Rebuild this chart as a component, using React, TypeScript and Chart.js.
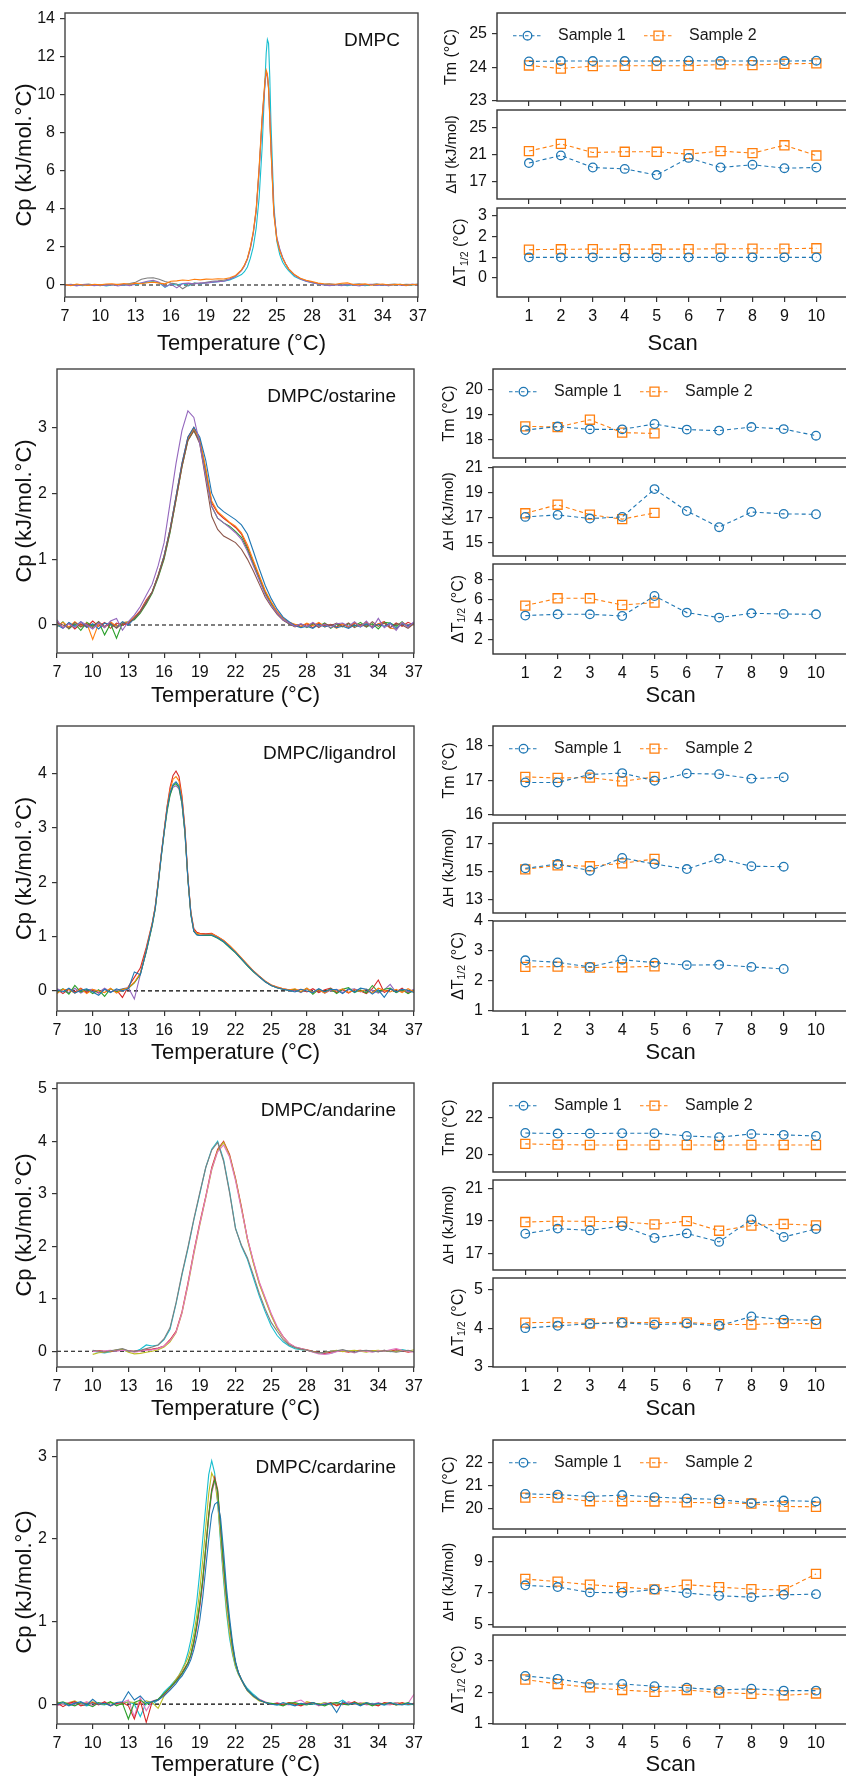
import React, { useEffect, useRef } from "react";
import { Chart, registerables } from "chart.js";

Chart.register(...registerables);

const FONT = "'Liberation Sans', Arial, Helvetica, sans-serif";
Chart.defaults.font.family = FONT;
Chart.defaults.color = "#111";

const C = {
  blue: "#1f77b4", orange: "#ff7f0e", green: "#2ca02c", red: "#d62728", purple: "#9467bd",
  brown: "#8c564b", pink: "#e377c2", gray: "#7f7f7f", olive: "#bcbd22", cyan: "#17becf",
};

// ---------------- axis ticks ----------------
const TEMP_TICKS = [7, 10, 13, 16, 19, 22, 25, 28, 31, 34, 37];
const SCANS = [1, 2, 3, 4, 5, 6, 7, 8, 9, 10];
const ZERO_X = [7, 37];
const ZERO_Y = [0, 0];

// ---------------- DSC thermograms ----------------
const T_DMPC = [7,7.5,8,8.5,9,9.5,10,10.5,11,11.5,12,12.5,13,13.5,14,14.5,15,15.5,16,16.5,17,17.5,18,18.5,19,19.5,20,20.5,21,21.5,22,22.25,22.5,22.75,23,23.25,23.5,23.75,24,24.1,24.2,24.3,24.4,24.5,24.75,25,25.25,25.5,25.75,26,26.5,27,27.5,28,28.5,29,29.5,30,30.5,31,31.5,32,32.5,33,33.5,34,34.5,35,35.5,36,36.5,37];
const DMPC_ORANGE = [0.02,-0.03,0.05,0.0,-0.02,0.04,0.01,0.05,0.07,0.02,0.08,0.04,0.1,0.07,0.12,0.15,0.1,0.06,0.2,0.22,0.26,0.24,0.3,0.27,0.31,0.3,0.33,0.32,0.38,0.5, 0.8,1.05,1.4,2.0,2.8,4.0,6.2,8.8,10.8, 11.3,11.1,10.3,8.8,7.2, 3.7,2.4,1.8,1.4,1.1,0.85, 0.55,0.36,0.25,0.18,0.1,0.07,0.05,0.04,0.09,0.11,0.03,0.02,0.06,-0.01,0.03,0.05,0.0,0.02,0.04,-0.02,0.03,0.01];
const DMPC_PURPLE = [-0.03,0.02,-0.05,0.03,0.0,-0.04,0.02,-0.02,0.03,-0.05,0.01,-0.03,0.05,0.12,0.2,0.25,0.15,-0.1,0.05,-0.15,0.08,0.1,0.05,0.12,0.1,0.15,0.18,0.2,0.3,0.45, 0.75,1.0,1.35,1.9,2.7,3.9,6.0,8.6,10.6, 11.1,11.0,10.4,9.0,7.4, 3.9,2.5,1.9,1.45,1.12,0.85, 0.52,0.32,0.2,0.12,0.05,0.0,-0.03,0.02,-0.04,0.03,0.0,-0.05,0.02,0.04,-0.02,0.01,-0.03,0.03,0.0,-0.04,0.05,-0.02];
const DMPC_GRAY = [0.0,0.04,-0.02,0.02,0.05,0.0,-0.03,0.03,0.0,0.04,0.02,0.08,0.15,0.3,0.37,0.38,0.3,0.18,0.1,0.05,-0.2,0.0,0.1,0.08,0.14,0.2,0.22,0.25,0.33,0.48, 0.78,1.02,1.38,1.95,2.75,3.95,6.1,8.7,10.7, 11.2,11.05,10.35,8.9,7.3, 3.8,2.45,1.85,1.42,1.1,0.85, 0.53,0.34,0.22,0.15,0.08,0.04,0.06,0.02,0.05,0.0,0.04,0.07,0.01,0.03,0.06,0.0,0.03,0.05,0.01,0.04,0.02,0.05];
const DMPC_CYAN = [0.01,-0.02,0.02,-0.04,0.03,-0.01,0.02,-0.05,0.0,0.03,-0.02,0.04,0.02,0.1,0.15,0.18,0.12,-0.12,0.05,0.0,0.08,-0.05,0.1,0.06,0.12,0.14,0.18,0.2,0.27,0.4, 0.55,0.7,0.95,1.4,2.0,3.0,4.6,7.2,10.8, 12.2,12.9,12.7,11.0,8.6, 4.2,2.3,1.6,1.2,0.95,0.75, 0.45,0.3,0.2,0.12,0.06,0.02,-0.02,0.03,0.0,-0.03,0.02,0.01,-0.04,0.03,0.0,0.02,-0.03,0.01,0.04,-0.02,0.0,0.03];

const T_OST = [7,7.5,8,8.5,9,9.5,10,10.5,11,11.5,12,12.5,13,13.5,14,14.5,15,15.5,16,16.5,17,17.5,18,18.5,19,19.5,20,20.5,21,21.5,22,22.5,23,23.5,24,24.5,25,25.5,26,26.5,27,27.5,28,28.5,29,29.5,30,30.5,31,31.5,32,32.5,33,33.5,34,34.5,35,35.5,36,36.5,37];
const OST_PURPLE = [0.08,-0.05,0.02,-0.04,0.05,0.0,-0.06,0.03,-0.04,0.06,0.1,-0.08, 0.05,0.15,0.28,0.45,0.62,0.9,1.25,1.85,2.45,2.95,3.25,3.15, 2.75,2.25,1.8,1.62,1.55,1.48,1.4,1.3,1.12,0.9,0.68,0.46, 0.3,0.18,0.08,0.03,-0.02,0.02,-0.03,0.04,-0.02,0.01,-0.04,0.02, 0.03,-0.02,0.05,-0.03,0.06,-0.05,0.1,-0.04,0.02,-0.08,0.04,-0.03,0.05];
const OST_BROWN = [0.03,0.0,-0.05,0.04,-0.03,0.02,-0.04,0.05,-0.02,0.03,-0.05,0.02, 0.03,0.1,0.2,0.34,0.5,0.74,1.02,1.42,1.9,2.4,2.8,2.95, 2.75,2.2,1.65,1.45,1.35,1.3,1.25,1.15,1.0,0.82,0.62,0.42, 0.28,0.16,0.07,0.02,-0.03,0.01,-0.02,0.03,-0.04,0.02,-0.01,0.03, -0.02,0.03,-0.04,0.01,-0.03,0.05,-0.02,0.03,-0.04,0.02,0.0,-0.05,0.02];
const OST_BLUE = [0.0,-0.05,0.04,-0.02,0.05,-0.04,0.02,-0.06,0.03,0.01,-0.04,0.05, 0.0,0.1,0.2,0.35,0.5,0.75,1.05,1.45,1.95,2.45,2.85,3.0, 2.85,2.5,2.0,1.8,1.72,1.66,1.6,1.52,1.38,1.12,0.85,0.6, 0.4,0.24,0.12,0.05,-0.01,-0.04,-0.02,-0.05,0.01,-0.03,0.0,-0.04, -0.02,-0.05,0.0,-0.03,0.02,-0.04,0.01,-0.02,0.03,-0.05,0.02,-0.01,0.03];
const OST_ORANGE = [-0.02,0.04,-0.03,0.05,-0.02,0.03,-0.22,0.02,-0.04,0.05,-0.02,0.04, 0.04,0.12,0.2,0.36,0.5,0.76,1.05,1.45,1.92,2.42,2.82,2.98, 2.82,2.38,1.88,1.72,1.64,1.56,1.5,1.4,1.22,0.98,0.75,0.52, 0.35,0.2,0.1,0.04,0.01,-0.02,0.03,-0.01,0.04,-0.03,0.0,-0.05, 0.02,-0.03,0.04,-0.02,0.05,-0.04,0.02,0.03,-0.05,-0.06,0.04,-0.02,0.03];
const OST_GREEN = [-0.03,0.05,-0.06,0.02,-0.08,0.04,-0.02,0.05,-0.15,0.02,-0.2,0.03, 0.05,0.08,0.18,0.32,0.48,0.72,1.0,1.4,1.9,2.4,2.8,2.95, 2.78,2.3,1.8,1.62,1.55,1.5,1.42,1.33,1.15,0.92,0.7,0.48, 0.32,0.18,0.08,0.02,-0.02,0.01,-0.04,0.02,-0.02,0.03,-0.05,0.01, -0.03,0.02,-0.02,0.04,-0.03,0.02,-0.06,0.04,0.03,-0.02,0.05,-0.03,0.02];
const OST_RED = [0.05,-0.04,0.03,-0.06,0.02,-0.03,0.06,-0.02,0.04,-0.05,0.03,0.0, 0.02,0.12,0.22,0.38,0.5,0.75,1.05,1.45,1.95,2.45,2.85,3.0, 2.8,2.35,1.85,1.7,1.62,1.55,1.48,1.38,1.18,0.95,0.72,0.5, 0.34,0.2,0.1,0.04,0.0,-0.03,0.02,-0.04,0.03,-0.02,0.01,-0.03, 0.02,-0.04,0.03,-0.02,0.04,-0.03,0.02,0.05,-0.04,0.03,-0.02,0.04,0.0];

const T_LIG = [7,7.5,8,8.5,9,9.5,10,10.5,11,11.5,12,12.5,13,13.5,14,14.5,15, 15.25,15.5,15.75,16,16.25,16.5,16.75,17,17.25,17.5,17.75,18,18.25,18.5,18.75,19, 19.5,20,20.5,21,21.5,22,22.5,23,23.5,24,24.5,25,25.5,26,26.5,27,27.5,28,28.5,29,29.5,30,30.5,31,31.5,32,32.5,33,33.5,34,34.5,35,35.5,36,36.5,37];
const LIG_BLUE = [0.02,-0.02,0.05,-0.04,0.01,0.04,-0.02,-0.08,0.03,-0.03,0.04,0.0,0.04,0.35,0.3,0.74,1.22, 1.52,1.97,2.47,2.92,3.35,3.65,3.8,3.85,3.78,3.5,2.95,2.07,1.42,1.1,1.03,1.02, 1.03,1.03,0.98,0.91,0.81,0.71,0.59,0.47,0.36,0.26,0.17,0.1,0.06,0.03,0.01,-0.02,0.03,0.0,-0.03,0.04,-0.02,0.03,0.02,-0.05,0.04,-0.02,0.05,0.03,-0.06,0.02,-0.12,0.04,-0.02,0.03,0.01,-0.03];
const LIG_ORANGE = [-0.05,0.03,0.02,-0.04,0.04,-0.05,0.03,0.0,-0.03,0.05,-0.04,0.02,0.06,0.16,0.33,0.76,1.24, 1.54,1.99,2.49,2.94,3.38,3.7,3.9,3.95,3.87,3.55,2.98,2.08,1.44,1.12,1.06,1.05, 1.04,1.05,1.0,0.93,0.84,0.73,0.61,0.49,0.37,0.27,0.18,0.11,0.07,0.04,0.02,0.04,-0.01,0.05,-0.03,0.02,-0.04,0.03,0.0,0.04,-0.03,0.02,-0.01,0.03,-0.04,0.05,0.01,-0.02,0.03,-0.03,0.04,-0.02];
const LIG_GREEN = [-0.03,0.04,-0.06,0.1,-0.02,0.03,-0.05,0.02,-0.1,0.04,-0.02,0.03,0.05,0.15,0.3,0.72,1.2, 1.5,1.95,2.45,2.9,3.3,3.6,3.78,3.82,3.75,3.45,2.9,2.05,1.4,1.1,1.04,1.02, 1.02,1.02,0.97,0.9,0.8,0.7,0.58,0.46,0.35,0.26,0.17,0.1,0.06,0.03,0.01,0.03,-0.02,0.05,-0.06,0.03,-0.02,0.04,-0.05,0.03,0.06,-0.03,0.02,-0.04,0.1,-0.02,0.03,0.05,-0.03,0.02,-0.05,0.01];
const LIG_PURPLE = [0.04,0.0,-0.03,0.05,-0.04,0.02,0.03,-0.03,0.05,-0.02,0.01,0.04,0.06,-0.15,0.3,0.73,1.22, 1.52,1.98,2.48,2.93,3.35,3.62,3.75,3.78,3.72,3.45,2.92,2.06,1.42,1.1,1.04,1.03, 1.03,1.04,0.99,0.92,0.82,0.71,0.59,0.47,0.36,0.26,0.17,0.1,0.06,0.03,0.01,0.02,-0.03,0.04,-0.02,0.03,-0.04,0.01,0.03,-0.03,0.02,0.04,-0.02,0.03,0.01,-0.04,0.02,0.12,-0.03,0.02,-0.02,0.03];
const LIG_RED = [0.03,-0.05,0.04,-0.02,0.05,-0.03,0.02,-0.04,0.03,-0.02,0.02,-0.12,0.08,0.25,0.42,0.8,1.25, 1.55,2.0,2.5,2.95,3.4,3.75,3.97,4.05,3.95,3.6,3.0,2.1,1.45,1.15,1.08,1.06, 1.05,1.06,1.0,0.93,0.83,0.72,0.6,0.48,0.37,0.27,0.18,0.11,0.07,0.04,0.02,0.0,0.03,-0.02,0.04,-0.03,0.02,0.05,-0.03,0.02,-0.04,0.03,0.0,-0.05,0.04,0.2,-0.03,0.03,-0.02,0.05,-0.04,0.02];

const T_AND = [10,10.5,11,11.5,12,12.5,13,13.5,14,14.5,15,15.5,16,16.5,17,17.5,18,18.5,19,19.5,20,20.5,21,21.5,22,22.5,23,23.5,24,24.5,25,25.5,26,26.5,27,27.5,28,28.5,29,29.5,30,30.5,31,31.5,32,32.5,33,33.5,34,34.5,35,35.5,36,36.5,37];
const AND_GRAY = [0.02,0.0,-0.02,0.01,0.03,0.05,0.01,0.0,0.02,0.05, 0.08,0.12,0.24,0.45,0.92,1.48,1.98,2.52,3.02,3.5, 3.83,3.98,3.62,3.02,2.33,2.02,1.78,1.45,1.1,0.8, 0.55,0.38,0.22,0.12,0.07,0.04,0.02,-0.01,-0.03,-0.02, 0.0,0.01,0.03,0.0,-0.02,0.01,0.02,0.0,-0.01,0.01,0.0,-0.02,0.0,0.02,-0.01];
const AND_PINK = [0.0,-0.01,0.01,0.02,0.0,0.02,0.01,-0.02,0.0,0.02, 0.03,0.05,0.1,0.2,0.36,0.73,1.27,1.88,2.42,2.93, 3.47,3.8,3.93,3.7,3.25,2.7,2.15,1.72,1.32,1.02, 0.72,0.47,0.28,0.15,0.08,0.05,0.02,-0.02,-0.05,-0.06, -0.04,-0.01,0.02,0.0,-0.03,0.01,0.0,-0.02,0.01,0.0,0.03,0.05,0.02,0.0,-0.02];
const AND_OLIVE = [-0.06,-0.03,-0.02,0.0,0.03,0.04,-0.02,-0.05,-0.04,-0.02, 0.0,0.03,0.08,0.18,0.35,0.72,1.25,1.85,2.4,2.92, 3.45,3.82,3.98,3.72,3.28,2.72,2.12,1.68,1.28,0.98, 0.68,0.44,0.27,0.14,0.07,0.04,0.02,-0.01,-0.03,-0.02, 0.0,0.02,-0.01,0.01,0.02,0.0,-0.02,0.01,0.02,0.0,0.01,-0.01,0.02,0.0,0.03];
const AND_RED = [0.0,0.01,0.0,-0.01,0.02,0.03,0.01,0.0,0.01,0.03, 0.04,0.06,0.1,0.22,0.38,0.75,1.3,1.9,2.45,2.95, 3.5,3.85,4.0,3.75,3.3,2.75,2.15,1.7,1.3,1.0, 0.7,0.45,0.28,0.15,0.08,0.05,0.03,0.0,-0.02,-0.04, -0.02,0.01,0.0,-0.02,0.01,0.02,0.0,0.01,-0.01,0.02,0.0,0.03,0.01,-0.02,0.0];
const AND_CYAN = [0.0,-0.02,-0.03,-0.01,0.01,0.02,0.0,-0.01,0.04,0.12, 0.1,0.12,0.22,0.42,0.9,1.45,1.95,2.5,3.0,3.5, 3.85,4.0,3.65,3.05,2.35,2.0,1.75,1.4,1.05,0.75, 0.48,0.3,0.18,0.1,0.05,0.03,0.02,0.0,-0.03,-0.05, -0.04,0.0,0.02,0.01,-0.02,0.0,0.01,-0.01,0.0,0.02,-0.01,0.0,0.03,0.01,-0.01];

const T_CAR = [7,7.5,8,8.5,9,9.5,10,10.5,11,11.5,12,12.5,13,13.5,14,14.5,15,15.5,16,16.5,17, 17.25,17.5,17.75,18,18.25,18.5,18.75,19,19.25,19.5,19.75,20,20.25,20.5,20.75,21,21.25,21.5,21.75,22,22.25,22.5,22.75,23, 23.5,24,24.5,25,25.5,26,26.5,27,27.5,28,28.5,29,29.5,30,30.5,31,31.5,32,32.5,33,33.5,34,34.5,35,35.5,36,36.5,37];
const CAR_BLUE = [0.0,0.02,-0.02,0.01,0.03,-0.01,0.06,0.0,0.01,-0.02,0.02,0.03,0.15,0.05,0.1,0.02,0.03,0.05,0.1,0.17,0.25, 0.3,0.34,0.4,0.46,0.54,0.66,0.82,1.02,1.3,1.65,2.0,2.3,2.42,2.45,2.25,1.85,1.4,1.05,0.75,0.52,0.38,0.3,0.23,0.17, 0.1,0.05,0.02,0.0,-0.01,0.02,0.0,-0.02,0.01,0.0,0.02,-0.01,0.0,0.01,-0.1,0.03,0.0,0.01,-0.02,0.02,0.0,0.01,-0.01,0.02,0.0,-0.01,0.01,0.0];
const CAR_GREEN = [0.01,0.03,0.0,-0.02,0.02,0.0,-0.03,0.02,0.0,0.03,-0.02,0.01,-0.18,0.02,0.05,0.0,0.03,0.06,0.13,0.2,0.28, 0.32,0.37,0.43,0.5,0.6,0.76,0.97,1.22,1.52,1.9,2.28,2.58,2.72,2.58,2.15,1.7,1.3,0.98,0.7,0.5,0.38,0.3,0.23,0.17, 0.1,0.05,0.02,0.01,0.0,-0.02,0.01,0.02,0.0,-0.01,0.02,0.0,-0.02,0.01,0.02,0.0,-0.01,0.02,0.0,0.01,-0.02,0.01,0.0,0.02,-0.01,0.0,0.02,-0.01];
const CAR_RED = [0.02,-0.03,0.01,0.03,-0.02,0.0,0.02,-0.01,0.03,-0.02,0.01,0.02,-0.02,-0.18,0.04,-0.22,0.03,0.05,0.12,0.2,0.28, 0.33,0.38,0.44,0.5,0.6,0.75,0.95,1.2,1.5,1.9,2.3,2.6,2.75,2.6,2.15,1.7,1.3,0.98,0.7,0.5,0.38,0.3,0.23,0.17, 0.1,0.05,0.02,0.0,0.01,-0.01,0.02,0.0,-0.02,0.01,0.02,-0.01,0.0,0.02,-0.02,0.01,0.0,0.03,-0.01,0.01,0.0,-0.02,0.02,0.01,-0.01,0.02,0.0,0.01];
const CAR_PINK = [-0.02,0.0,0.02,-0.01,0.0,0.03,-0.02,0.01,0.02,-0.01,0.0,0.02,0.05,-0.15,0.08,-0.08,0.04,0.06,0.12,0.19,0.27, 0.31,0.36,0.42,0.48,0.58,0.72,0.92,1.17,1.47,1.85,2.25,2.55,2.7,2.55,2.1,1.65,1.25,0.95,0.68,0.5,0.38,0.3,0.23,0.17, 0.1,0.06,0.03,0.0,0.02,0.0,-0.01,0.03,0.05,0.0,0.02,-0.02,0.01,0.0,0.02,-0.01,0.03,0.0,0.02,-0.01,0.0,0.02,0.0,-0.01,0.02,0.0,0.01,0.12];
const CAR_OLIVE = [0.03,0.0,0.02,0.04,0.0,0.02,0.03,0.01,0.0,0.02,0.01,0.0,0.03,0.02,0.0,0.04,0.02,-0.05,0.1,0.19,0.3, 0.35,0.41,0.48,0.56,0.68,0.85,1.08,1.38,1.75,2.15,2.55,2.8,2.72,2.45,2.0,1.55,1.15,0.85,0.62,0.46,0.36,0.29,0.22,0.16, 0.09,0.04,0.02,0.0,0.01,0.0,0.02,0.01,-0.01,0.03,0.01,0.0,0.02,-0.01,0.0,0.01,0.02,0.0,0.01,0.02,0.0,-0.01,0.01,0.0,0.02,0.01,0.0,0.01];
const CAR_CYAN = [0.01,0.0,-0.01,0.02,0.0,-0.02,0.01,0.0,-0.01,0.02,0.0,0.01,0.03,0.0,-0.15,0.02,0.0,0.05,0.15,0.22,0.3, 0.35,0.42,0.5,0.62,0.78,0.98,1.25,1.6,2.0,2.4,2.78,2.95,2.8,2.45,1.95,1.5,1.1,0.8,0.6,0.45,0.36,0.3,0.24,0.19, 0.12,0.06,0.02,0.0,-0.01,0.0,0.01,-0.01,0.0,0.01,0.0,-0.01,0.02,0.0,0.01,0.05,0.0,0.02,-0.01,0.0,0.01,0.0,-0.01,0.0,0.02,0.0,-0.01,0.0];

// ---------------- per-scan parameters ----------------
const DMPC_TM_S1 = [24.17,24.18,24.18,24.18,24.18,24.19,24.18,24.18,24.18,24.19];
const DMPC_TM_S2 = [24.05,23.96,24.03,24.04,24.04,24.04,24.08,24.06,24.10,24.11];
const DMPC_DH_S1 = [19.75,20.86,19.1,18.9,18.0,20.5,19.1,19.5,19.0,19.1];
const DMPC_DH_S2 = [21.5,22.55,21.3,21.4,21.4,21.05,21.5,21.2,22.35,20.85];
const DMPC_DT_S1 = [1.0,1.0,1.0,1.0,1.0,1.0,1.0,1.0,1.0,1.0];
const DMPC_DT_S2 = [1.37,1.39,1.4,1.4,1.4,1.4,1.42,1.42,1.42,1.44];

const OST_TM_S1 = [18.39,18.53,18.42,18.42,18.63,18.41,18.37,18.51,18.43,18.17];
const OST_TM_S2 = [18.54,18.51,18.8,18.29,18.26];
const OST_DH_S1 = [17.08,17.24,16.95,17.08,19.29,17.55,16.26,17.47,17.32,17.29];
const OST_DH_S2 = [17.37,18.05,17.26,16.9,17.4];
const OST_DT_S1 = [4.37,4.5,4.5,4.33,6.33,4.67,4.17,4.6,4.53,4.5];
const OST_DT_S2 = [5.37,6.1,6.1,5.43,5.67];

const LIG_TM_S1 = [16.94,16.94,17.17,17.21,16.99,17.2,17.18,17.05,17.09];
const LIG_TM_S2 = [17.1,17.07,17.08,16.97,17.1];
const LIG_DH_S1 = [15.24,15.55,15.07,15.99,15.55,15.19,15.94,15.39,15.36];
const LIG_DH_S2 = [15.17,15.46,15.39,15.6,15.92];
const LIG_DT_S1 = [2.69,2.62,2.47,2.71,2.61,2.53,2.54,2.47,2.4];
const LIG_DT_S2 = [2.47,2.48,2.45,2.46,2.49];

const AND_TM_S1 = [21.15,21.12,21.12,21.14,21.14,20.99,20.92,21.1,21.05,20.99];
const AND_TM_S2 = [20.56,20.52,20.5,20.5,20.5,20.5,20.5,20.5,20.5,20.5];
const AND_DH_S1 = [18.23,18.54,18.43,18.7,17.97,18.25,17.73,19.1,18.03,18.52];
const AND_DH_S2 = [18.94,19.0,18.98,18.96,18.8,19.0,18.41,18.72,18.82,18.74];
const AND_DT_S1 = [4.0,4.06,4.11,4.14,4.09,4.12,4.06,4.3,4.22,4.2];
const AND_DT_S2 = [4.14,4.15,4.12,4.15,4.14,4.15,4.1,4.09,4.13,4.11];

const CAR_TM_S1 = [20.62,20.59,20.51,20.57,20.48,20.42,20.38,20.22,20.33,20.29];
const CAR_TM_S2 = [20.46,20.46,20.3,20.3,20.29,20.25,20.23,20.2,20.07,20.06];
const CAR_DH_S1 = [7.47,7.36,7.02,7.0,7.21,6.98,6.81,6.72,6.87,6.91];
const CAR_DH_S2 = [7.87,7.7,7.51,7.36,7.21,7.51,7.36,7.23,7.17,8.19];
const CAR_DT_S1 = [2.51,2.42,2.26,2.26,2.19,2.14,2.07,2.11,2.05,2.05];
const CAR_DT_S2 = [2.4,2.26,2.15,2.07,2.01,2.07,1.99,1.95,1.9,1.96];

// ---------------- helpers ----------------
type XY = { x: number; y: number };
function toXY(xs: number[], ys: number[]): XY[] {
  const n = Math.min(xs.length, ys.length);
  const out: XY[] = [];
  for (let i = 0; i < n; i++) out.push({ x: xs[i], y: ys[i] });
  return out;
}

type Rect = { l: number; t: number; r: number; b: number };
type Box = { left: number; top: number; width: number; height: number };

const framePlugin = (color: string) => ({
  id: "frame",
  afterDraw(chart: any) {
    const { ctx, chartArea: a } = chart;
    ctx.save();
    ctx.strokeStyle = color;
    ctx.lineWidth = 1.4;
    ctx.strokeRect(a.left, a.top, a.right - a.left, a.bottom - a.top);
    ctx.restore();
  },
});

const cornerLabelPlugin = (text: string) => ({
  id: "cornerLabel",
  afterDraw(chart: any) {
    const { ctx, chartArea: a } = chart;
    ctx.save();
    ctx.font = `19px ${FONT}`;
    ctx.fillStyle = "#111";
    ctx.textAlign = "right";
    ctx.textBaseline = "middle";
    ctx.fillText(text, a.right - 18, a.top + 27.5);
    ctx.restore();
  },
});

function drawMarker(ctx: any, kind: string, x: number, y: number, color: string) {
  ctx.save();
  ctx.strokeStyle = color;
  ctx.lineWidth = 1.3;
  ctx.setLineDash([]);
  ctx.beginPath();
  if (kind === "circle") ctx.arc(x, y, 4.3, 0, Math.PI * 2);
  else ctx.rect(x - 4.5, y - 4.5, 9, 9);
  ctx.stroke();
  ctx.restore();
}

const legendPlugin = {
  id: "sampleLegend",
  afterDraw(chart: any) {
    const { ctx, chartArea: a } = chart;
    const y = a.top + 22.7;
    const items = [
      { x1: 16, x2: 45, m: 30.5, tx: 61, color: C.blue, kind: "circle", text: "Sample 1" },
      { x1: 147, x2: 176, m: 161.5, tx: 192, color: C.orange, kind: "rect", text: "Sample 2" },
    ];
    ctx.save();
    for (const it of items) {
      ctx.strokeStyle = it.color;
      ctx.lineWidth = 1.1;
      ctx.setLineDash([3.5, 2.5]);
      ctx.beginPath();
      ctx.moveTo(a.left + it.x1, y);
      ctx.lineTo(a.left + it.x2, y);
      ctx.stroke();
      drawMarker(ctx, it.kind, a.left + it.m, y, it.color);
      ctx.setLineDash([]);
      ctx.font = `16px ${FONT}`;
      ctx.fillStyle = "#1a1a1a";
      ctx.textAlign = "left";
      ctx.textBaseline = "middle";
      ctx.fillText(it.text, a.left + it.tx, y);
    }
    ctx.restore();
  },
};

const R_CANVAS_L = 423;
const R_CANVAS_R = 856;

const dtTitlePlugin = (cx: number) => ({
  id: "dtTitle",
  afterDraw(chart: any) {
    const { ctx, chartArea: a } = chart;
    const cy = (a.top + a.bottom) / 2;
    const big = `16px ${FONT}`;
    const small = `10.5px ${FONT}`;
    ctx.save();
    ctx.translate(cx - R_CANVAS_L, cy);
    ctx.rotate(-Math.PI / 2);
    ctx.fillStyle = "#111";
    ctx.textBaseline = "middle";
    ctx.textAlign = "left";
    ctx.font = big;
    const w1 = ctx.measureText("ΔT").width;
    const w3 = ctx.measureText(" (°C)").width;
    ctx.font = small;
    const w2 = ctx.measureText("1/2").width;
    let x = -(w1 + w2 + w3) / 2;
    ctx.font = big;
    ctx.fillText("ΔT", x, 0);
    x += w1;
    ctx.font = small;
    ctx.fillText("1/2", x, 4);
    x += w2;
    ctx.font = big;
    ctx.fillText(" (°C)", x, 0);
    ctx.restore();
  },
});

const GRID = { drawOnChartArea: false, drawTicks: true, tickLength: 5, color: "#333", lineWidth: 1.2 };

// ---------------- DSC (left) panels ----------------
type Curve = { color: string; values: number[] };
type DscSpec = { rect: Rect; xH: number; yMin: number; yMax: number; yTicks: number[]; label: string; temps: number[]; curves: Curve[] };

const L_PAD_TOP = 20, L_PAD_RIGHT = 25;

function dscBox(s: DscSpec): Box {
  const top = s.rect.t - L_PAD_TOP;
  return { left: 0, top, width: s.rect.r + L_PAD_RIGHT, height: s.rect.b + s.xH - top };
}

function dscConfig(s: DscSpec): any {
  return {
    type: "line",
    data: {
      datasets: [
        ...s.curves.map((c) => ({
          data: toXY(s.temps, c.values), borderColor: c.color, borderWidth: 1.1,
          pointRadius: 0, fill: false, tension: 0,
        })),
        { data: toXY(ZERO_X, ZERO_Y), borderColor: "#000", borderWidth: 1.2, borderDash: [4, 3], pointRadius: 0, fill: false },
      ],
    },
    options: {
      animation: false, responsive: false, devicePixelRatio: 1,
      layout: { padding: { top: L_PAD_TOP, right: L_PAD_RIGHT, bottom: 0, left: 0 } },
      plugins: { legend: { display: false }, tooltip: { enabled: false } },
      scales: {
        x: {
          type: "linear", min: 7, max: 37, bounds: "data",
          afterBuildTicks: (sc: any) => { sc.ticks = TEMP_TICKS.map((v) => ({ value: v })); },
          afterFit: (sc: any) => { sc.height = s.xH; },
          grid: GRID, border: { display: false },
          ticks: { autoSkip: false, maxRotation: 0, padding: 5, color: "#111", font: { size: 16 }, callback: (v: any) => String(v) },
          title: { display: true, text: "Temperature (°C)", color: "#111", font: { size: 22 }, padding: 0 },
        },
        y: {
          type: "linear", min: s.yMin, max: s.yMax, bounds: "data",
          afterBuildTicks: (sc: any) => { sc.ticks = s.yTicks.map((v) => ({ value: v })); },
          afterFit: (sc: any) => { sc.width = s.rect.l; },
          grid: GRID, border: { display: false },
          ticks: { padding: 5, color: "#111", font: { size: 16 }, callback: (v: any) => String(v) },
          title: { display: true, text: "Cp (kJ/mol.°C)", color: "#111", font: { size: 22 }, padding: { top: 11.3, bottom: 0 } },
        },
      },
    },
    plugins: [framePlugin("#444"), cornerLabelPlugin(s.label)],
  };
}

// ---------------- parameter (right) panels ----------------
type ParamSpec = { kind: "tm" | "dh" | "dt"; rect: Rect; xH?: number; yMin: number; yMax: number; yTicks: number[]; s1: number[]; s2: number[]; cx: number };

const R_PAD_TOP = 20;
function paramDims(s: ParamSpec) {
  return s.kind === "dt" ? { xH: s.xH ?? 55, padBottom: 0 } : { xH: 6, padBottom: 16 };
}
function paramBox(s: ParamSpec): Box {
  const { xH, padBottom } = paramDims(s);
  const top = s.rect.t - R_PAD_TOP;
  return { left: R_CANVAS_L, top, width: R_CANVAS_R - R_CANVAS_L, height: s.rect.b + xH + padBottom - top };
}

function paramConfig(s: ParamSpec): any {
  const { xH, padBottom } = paramDims(s);
  const isBottom = s.kind === "dt";
  const titleFont = s.kind === "tm" ? 16 : 15;
  const titleText = s.kind === "tm" ? "Tm (°C)" : "ΔH (kJ/mol)";
  const plugins: any[] = [framePlugin("#333")];
  if (s.kind === "tm") plugins.push(legendPlugin);
  if (s.kind === "dt") plugins.push(dtTitlePlugin(s.cx));
  return {
    type: "line",
    data: {
      datasets: [
        {
          data: toXY(SCANS, s.s1), borderColor: C.blue, borderWidth: 1.1, borderDash: [4, 3],
          pointStyle: "circle", pointRadius: 4.3, pointBorderWidth: 1.3, pointBorderColor: C.blue,
          pointBackgroundColor: "rgba(255,255,255,0)", fill: false, tension: 0,
        },
        {
          data: toXY(SCANS, s.s2), borderColor: C.orange, borderWidth: 1.1, borderDash: [4, 3],
          pointStyle: "rect", pointRadius: 6.4, pointBorderWidth: 1.3, pointBorderColor: C.orange,
          pointBackgroundColor: "rgba(255,255,255,0)", fill: false, tension: 0,
        },
      ],
    },
    options: {
      animation: false, responsive: false, devicePixelRatio: 1,
      layout: { padding: { top: R_PAD_TOP, right: R_CANVAS_R - s.rect.r, bottom: padBottom, left: 0 } },
      plugins: { legend: { display: false }, tooltip: { enabled: false } },
      scales: {
        x: {
          type: "linear", min: 0, max: 11, bounds: "data",
          afterBuildTicks: (sc: any) => { sc.ticks = SCANS.map((v) => ({ value: v })); },
          afterFit: (sc: any) => { sc.height = xH; },
          grid: GRID, border: { display: false },
          ticks: { display: isBottom, autoSkip: false, maxRotation: 0, padding: 5, color: "#111", font: { size: 16 }, callback: (v: any) => String(v) },
          title: { display: isBottom, text: "Scan", color: "#111", font: { size: 22 }, padding: 0 },
        },
        y: {
          type: "linear", min: s.yMin, max: s.yMax, bounds: "data",
          afterBuildTicks: (sc: any) => { sc.ticks = s.yTicks.map((v) => ({ value: v })); },
          afterFit: (sc: any) => { sc.width = s.rect.l - R_CANVAS_L; },
          grid: GRID, border: { display: false },
          ticks: { padding: 5, color: "#111", font: { size: 16 }, callback: (v: any) => String(v) },
          title: {
            display: !isBottom, text: titleText, color: "#111", font: { size: titleFont },
            padding: { top: s.cx - R_CANVAS_L - (titleFont * 1.2) / 2, bottom: 0 },
          },
        },
      },
    },
    plugins,
  };
}

// ---------------- panel specs ----------------
const DSC: DscSpec[] = [
  { rect: { l: 65, t: 13, r: 418, b: 297 }, xH: 60, yMin: -0.63, yMax: 14.3, yTicks: [0, 2, 4, 6, 8, 10, 12, 14], label: "DMPC", temps: T_DMPC,
    curves: [{ color: C.orange, values: DMPC_ORANGE }, { color: C.purple, values: DMPC_PURPLE }, { color: C.gray, values: DMPC_GRAY }, { color: C.cyan, values: DMPC_CYAN }] },
  { rect: { l: 57, t: 369, r: 414, b: 653 }, xH: 56, yMin: -0.425, yMax: 3.885, yTicks: [0, 1, 2, 3], label: "DMPC/ostarine", temps: T_OST,
    curves: [{ color: C.purple, values: OST_PURPLE }, { color: C.brown, values: OST_BROWN }, { color: C.blue, values: OST_BLUE }, { color: C.orange, values: OST_ORANGE }, { color: C.green, values: OST_GREEN }, { color: C.red, values: OST_RED }] },
  { rect: { l: 57, t: 726, r: 414, b: 1011 }, xH: 55, yMin: -0.37, yMax: 4.88, yTicks: [0, 1, 2, 3, 4], label: "DMPC/ligandrol", temps: T_LIG,
    curves: [{ color: C.blue, values: LIG_BLUE }, { color: C.orange, values: LIG_ORANGE }, { color: C.green, values: LIG_GREEN }, { color: C.purple, values: LIG_PURPLE }, { color: C.red, values: LIG_RED }] },
  { rect: { l: 57, t: 1083, r: 414, b: 1367 }, xH: 55, yMin: -0.3, yMax: 5.11, yTicks: [0, 1, 2, 3, 4, 5], label: "DMPC/andarine", temps: T_AND,
    curves: [{ color: C.gray, values: AND_GRAY }, { color: C.pink, values: AND_PINK }, { color: C.olive, values: AND_OLIVE }, { color: C.red, values: AND_RED }, { color: C.cyan, values: AND_CYAN }] },
  { rect: { l: 57, t: 1440, r: 414, b: 1724 }, xH: 54, yMin: -0.24, yMax: 3.2, yTicks: [0, 1, 2, 3], label: "DMPC/cardarine", temps: T_CAR,
    curves: [{ color: C.blue, values: CAR_BLUE }, { color: C.green, values: CAR_GREEN }, { color: C.red, values: CAR_RED }, { color: C.pink, values: CAR_PINK }, { color: C.olive, values: CAR_OLIVE }, { color: C.cyan, values: CAR_CYAN }] },
];

const PARAMS: ParamSpec[] = [
  { kind: "tm", rect: { l: 497, t: 13, r: 850, b: 101 }, yMin: 23, yMax: 25.6, yTicks: [23, 24, 25], s1: DMPC_TM_S1, s2: DMPC_TM_S2, cx: 452 },
  { kind: "dh", rect: { l: 497, t: 110, r: 850, b: 199 }, yMin: 14.5, yMax: 27.5, yTicks: [17, 21, 25], s1: DMPC_DH_S1, s2: DMPC_DH_S2, cx: 452 },
  { kind: "dt", rect: { l: 497, t: 208, r: 850, b: 297 }, xH: 60, yMin: -0.92, yMax: 3.39, yTicks: [0, 1, 2, 3], s1: DMPC_DT_S1, s2: DMPC_DT_S2, cx: 461 },

  { kind: "tm", rect: { l: 493, t: 369, r: 851, b: 458 }, yMin: 17.29, yMax: 20.8, yTicks: [18, 19, 20], s1: OST_TM_S1, s2: OST_TM_S2, cx: 449.3 },
  { kind: "dh", rect: { l: 493, t: 467, r: 851, b: 556 }, yMin: 13.97, yMax: 21.05, yTicks: [15, 17, 19, 21], s1: OST_DH_S1, s2: OST_DH_S2, cx: 449 },
  { kind: "dt", rect: { l: 493, t: 564, r: 851, b: 654 }, xH: 55, yMin: 0.53, yMax: 9.53, yTicks: [2, 4, 6, 8], s1: OST_DT_S1, s2: OST_DT_S2, cx: 458.5 },

  { kind: "tm", rect: { l: 493, t: 726, r: 851, b: 815 }, yMin: 16, yMax: 18.57, yTicks: [16, 17, 18], s1: LIG_TM_S1, s2: LIG_TM_S2, cx: 449.3 },
  { kind: "dh", rect: { l: 493, t: 823, r: 851, b: 913 }, yMin: 12.03, yMax: 18.5, yTicks: [13, 15, 17], s1: LIG_DH_S1, s2: LIG_DH_S2, cx: 449 },
  { kind: "dt", rect: { l: 493, t: 921, r: 851, b: 1011 }, xH: 55, yMin: 1, yMax: 4, yTicks: [1, 2, 3, 4], s1: LIG_DT_S1, s2: LIG_DT_S2, cx: 458.5 },

  { kind: "tm", rect: { l: 493, t: 1083, r: 851, b: 1172 }, yMin: 19.03, yMax: 23.87, yTicks: [20, 22], s1: AND_TM_S1, s2: AND_TM_S2, cx: 449.3 },
  { kind: "dh", rect: { l: 493, t: 1180, r: 851, b: 1270 }, yMin: 16.02, yMax: 21.5, yTicks: [17, 19, 21], s1: AND_DH_S1, s2: AND_DH_S2, cx: 449 },
  { kind: "dt", rect: { l: 493, t: 1278, r: 851, b: 1367 }, xH: 55, yMin: 3, yMax: 5.29, yTicks: [3, 4, 5], s1: AND_DT_S1, s2: AND_DT_S2, cx: 458.5 },

  { kind: "tm", rect: { l: 493, t: 1440, r: 851, b: 1529 }, yMin: 19.09, yMax: 22.97, yTicks: [20, 21, 22], s1: CAR_TM_S1, s2: CAR_TM_S2, cx: 449.3 },
  { kind: "dh", rect: { l: 493, t: 1537, r: 851, b: 1627 }, yMin: 4.83, yMax: 10.53, yTicks: [5, 7, 9], s1: CAR_DH_S1, s2: CAR_DH_S2, cx: 449 },
  { kind: "dt", rect: { l: 493, t: 1635, r: 851, b: 1724 }, xH: 54, yMin: 1, yMax: 3.8, yTicks: [1, 2, 3], s1: CAR_DT_S1, s2: CAR_DT_S2, cx: 458.5 },
];

// ---------------- components ----------------
function ChartCanvas({ box, makeConfig }: { box: Box; makeConfig: () => any }) {
  const ref = useRef<HTMLCanvasElement | null>(null);
  useEffect(() => {
    if (!ref.current) return;
    const chart = new Chart(ref.current, makeConfig());
    return () => chart.destroy();
  }, []);
  return (
    <canvas
      ref={ref}
      width={box.width}
      height={box.height}
      style={{ position: "absolute", left: box.left, top: box.top, width: box.width, height: box.height, display: "block" }}
    />
  );
}

export default function App() {
  return (
    <div style={{ position: "absolute", left: 0, top: 0, width: 846, height: 1779, overflow: "hidden", background: "#fff" }}>
      {DSC.map((s, i) => (
        <ChartCanvas key={"dsc" + i} box={dscBox(s)} makeConfig={() => dscConfig(s)} />
      ))}
      {PARAMS.map((s, i) => (
        <ChartCanvas key={"par" + i} box={paramBox(s)} makeConfig={() => paramConfig(s)} />
      ))}
    </div>
  );
}
